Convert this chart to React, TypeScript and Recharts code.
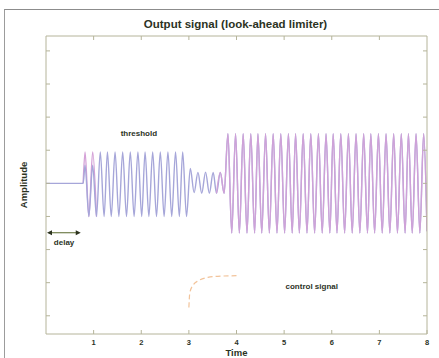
import React from 'react';
import { LineChart, Line, XAxis, YAxis, ReferenceDot, ReferenceLine, Label } from 'recharts';

// ---- data ----
const signalTimes = [
  0, 0.78,
  0.82, 0.90, 0.98, 1.06, 1.14, 1.22, 1.29, 1.37, 1.45, 1.53,
  1.61, 1.69, 1.77, 1.85, 1.93, 2.01, 2.08, 2.16, 2.24, 2.32,
  2.40, 2.48, 2.56, 2.64, 2.72, 2.80, 2.87, 2.95, 3.03, 3.11,
  3.19, 3.27, 3.35, 3.43, 3.51, 3.58, 3.66, 3.74, 3.82, 3.90,
  3.98, 4.06, 4.14, 4.22, 4.30, 4.38, 4.45, 4.53, 4.61, 4.69,
  4.77, 4.85, 4.93, 5.01, 5.09, 5.17, 5.24, 5.32, 5.40, 5.48,
  5.56, 5.64, 5.72, 5.80, 5.88, 5.96, 6.03, 6.11, 6.19, 6.27,
  6.35, 6.43, 6.51, 6.59, 6.67, 6.75, 6.82, 6.90, 6.98, 7.06,
  7.14, 7.22, 7.30, 7.38, 7.46, 7.54, 7.61, 7.69, 7.77, 7.85,
  7.93, 8.00,
];

// output signal (blue)
const outputValues = [
  0, 0,
  0.55, -1.0, 0.55, -1.0, 0.95, -1.0, 0.95, -1.0, 0.95, -1.0,
  0.95, -1.0, 0.95, -1.0, 0.95, -1.0, 0.95, -1.0, 0.95, -1.0,
  0.95, -1.0, 0.95, -1.0, 0.95, -1.0, 0.95, -1.0, 0.45, -0.28,
  0.33, -0.3, 0.34, -0.3, 0.33, -0.3, 0.33, -0.3, 1.5, -1.5,
  1.5, -1.5, 1.5, -1.5, 1.5, -1.5, 1.5, -1.5, 1.5, -1.5,
  1.5, -1.5, 1.5, -1.5, 1.5, -1.5, 1.5, -1.5, 1.5, -1.5,
  1.5, -1.5, 1.5, -1.5, 1.5, -1.5, 1.5, -1.5, 1.5, -1.5,
  1.5, -1.5, 1.5, -1.5, 1.5, -1.5, 1.5, -1.5, 1.5, -1.5,
  1.5, -1.5, 1.5, -1.5, 1.5, -1.5, 1.5, -1.5, 1.5, -1.5,
  1.5, -1.45,
];

// input signal (pink)
const inputValues = [
  null, 0,
  0.95, -1.0, 0.95, -1.0, null, null, null, null, null, null,
  null, null, null, null, null, null, null, null, null, null,
  null, null, null, null, null, null, null, null, null, null,
  null, null, null, null, null, -0.3, 0.33, -0.3, 1.5, -1.5,
  1.5, -1.5, 1.5, -1.5, 1.5, -1.5, 1.5, -1.5, 1.5, -1.5,
  1.5, -1.5, 1.5, -1.5, 1.5, -1.5, 1.5, -1.5, 1.5, -1.5,
  1.5, -1.5, 1.5, -1.5, 1.5, -1.5, 1.5, -1.5, 1.5, -1.5,
  1.5, -1.5, 1.5, -1.5, 1.5, -1.5, 1.5, -1.5, 1.5, -1.5,
  1.5, -1.5, 1.5, -1.5, 1.5, -1.5, 1.5, -1.5, 1.5, -1.5,
  1.5, -1.45,
];

const controlTimes = [3.0, 3.02, 3.1, 3.2, 3.4, 3.7, 4.0];
const controlValues = [-3.75, -3.3, -3.05, -2.94, -2.84, -2.8, -2.79];

const xTicksBottom = [1, 2, 3, 4, 5, 6, 7, 8];
const xTicksTop = [1, 2, 3, 4, 5, 6, 7];
const yTicks = [-4, -3, -2, -1, 0, 1, 2, 3, 4];
const xDomain = [0, 8];
const yDomain = [-4.55, 4.45];

const annotationTexts = ['threshold', 'delay', 'control signal'];
const annotationTimes = [1.95, 0.38, 5.58];
const annotationValues = [1.42, -1.86, -3.19];

const delayArrowTimes = [0, 0.73];
const delayArrowValue = -1.49;

const titleText = 'Output signal (look-ahead limiter)';
const xLabelText = 'Time';
const yLabelText = 'Amplitude';

// ---- styling ----
const FONT = '"Liberation Sans", Arial, Helvetica, sans-serif';
const FRAME = '#b5b49a';
const TEXT = '#2c331f';
const BLUE = '#a6a6d9';
const PINK = '#d4a1d7';
const ORANGE = '#f2c39a';

const signalData = signalTimes.map((t, i) => ({
  t,
  output: outputValues[i],
  inputEarly: t < 2 ? inputValues[i] : null,
  inputLate: t >= 2 ? inputValues[i] : null,
}));

const controlData = controlTimes.map((t, i) => ({ t, control: controlValues[i] }));

const annotations = annotationTexts.map((text, i) => ({
  text,
  t: annotationTimes[i],
  v: annotationValues[i],
}));

const BottomTick = (p: any) => (
  <g>
    <line x1={p.x} x2={p.x} y1={p.y} y2={p.y - 4} stroke={FRAME} />
    <text x={p.x} y={p.y + 11} textAnchor="middle" fontSize={7.5} fontWeight="bold" fill={TEXT} fontFamily={FONT}>
      {p.payload.value}
    </text>
  </g>
);
const TopTick = (p: any) => (
  <line x1={p.x} x2={p.x} y1={p.y} y2={p.y + 4} stroke={FRAME} />
);
const LeftTick = (p: any) => (
  <line x1={p.x} x2={p.x + 4} y1={p.y} y2={p.y} stroke={FRAME} />
);
const RightTick = (p: any) => (
  <line x1={p.x} x2={p.x - 4} y1={p.y} y2={p.y} stroke={FRAME} />
);

const TitleLabel = (p: any) => {
  const vb = p.viewBox || {};
  return (
    <text x={vb.x + vb.width / 2 - 1} y={vb.y + vb.height - 8} textAnchor="middle" fontSize={11.5} fontWeight="bold" fill={TEXT} fontFamily={FONT}>
      {titleText}
    </text>
  );
};
const TimeLabel = (p: any) => {
  const vb = p.viewBox || {};
  return (
    <text x={vb.x + vb.width / 2} y={vb.y + 22} textAnchor="middle" fontSize={9.5} fontWeight="bold" fill={TEXT} fontFamily={FONT}>
      {xLabelText}
    </text>
  );
};
const AmpLabel = (p: any) => {
  const vb = p.viewBox || {};
  const cx = vb.x + vb.width - 23;
  const cy = vb.y + vb.height / 2;
  return (
    <text
      transform={`translate(${cx},${cy}) rotate(-90)`}
      x={0}
      y={0}
      textAnchor="middle"
      dominantBaseline="central"
      fontSize={9.5}
      fontWeight="bold"
      fill={TEXT}
      fontFamily={FONT}
    >
      {yLabelText}
    </text>
  );
};

const DelayArrow = (p: any) => {
  const x1 = Math.min(p.x1, p.x2);
  const x2 = Math.max(p.x1, p.x2);
  const y = p.y1;
  return (
    <g>
      <line x1={x1 + 3} x2={x2 - 3} y1={y} y2={y} stroke="#7d8a5c" strokeWidth={1.3} />
      <polygon points={`${x1 + 1},${y} ${x1 + 6},${y - 2.5} ${x1 + 6},${y + 2.5}`} fill={TEXT} />
      <polygon points={`${x2},${y} ${x2 - 5},${y - 2.5} ${x2 - 5},${y + 2.5}`} fill={TEXT} />
    </g>
  );
};

export default function App() {
  return (
    <div style={{ position: 'absolute', left: 0, top: 0, width: 439, height: 358, background: '#fff', overflow: 'hidden' }}>
      <div
        style={{
          position: 'absolute',
          left: 4,
          top: 9,
          width: 440,
          height: 360,
          borderLeft: '1px solid #9c9c9c',
          borderTop: '1px solid #8c8c8c',
        }}
      />
      <LineChart
        width={439}
        height={358}
        data={signalData}
        margin={{ top: 35, right: 11, bottom: 0, left: 45 }}
        style={{ position: 'absolute', left: 0, top: 0 }}
      >
        <XAxis
          xAxisId="b"
          dataKey="t"
          type="number"
          domain={xDomain}
          ticks={xTicksBottom}
          interval={0}
          height={24}
          tickSize={0}
          tickMargin={0}
          tickLine={false}
          axisLine={{ stroke: FRAME }}
          tick={(p: any) => <BottomTick {...p} />}
          allowDataOverflow
        >
          <Label content={(p: any) => <TimeLabel {...p} />} />
        </XAxis>
        <XAxis
          xAxisId="t"
          orientation="top"
          dataKey="t"
          type="number"
          domain={xDomain}
          ticks={xTicksTop}
          interval={0}
          height={1}
          tickSize={0}
          tickMargin={0}
          tickLine={false}
          axisLine={{ stroke: FRAME }}
          tick={(p: any) => <TopTick {...p} />}
          allowDataOverflow
        >
          <Label content={(p: any) => <TitleLabel {...p} />} />
        </XAxis>
        <YAxis
          yAxisId="l"
          type="number"
          domain={yDomain}
          ticks={yTicks}
          interval={0}
          width={1}
          tickSize={0}
          tickMargin={0}
          tickLine={false}
          axisLine={{ stroke: FRAME }}
          tick={(p: any) => <LeftTick {...p} />}
          allowDataOverflow
        >
          <Label content={(p: any) => <AmpLabel {...p} />} />
        </YAxis>
        <YAxis
          yAxisId="r"
          orientation="right"
          type="number"
          domain={yDomain}
          ticks={yTicks}
          interval={0}
          width={1}
          tickSize={0}
          tickMargin={0}
          tickLine={false}
          axisLine={{ stroke: FRAME }}
          tick={(p: any) => <RightTick {...p} />}
          allowDataOverflow
        />
        <Line
          xAxisId="b"
          yAxisId="l"
          type="monotone"
          dataKey="inputEarly"
          stroke={PINK}
          strokeWidth={1.4}
          dot={false}
          activeDot={false}
          isAnimationActive={false}
        />
        <Line
          xAxisId="b"
          yAxisId="l"
          type="monotone"
          dataKey="output"
          stroke={BLUE}
          strokeWidth={1.4}
          dot={false}
          activeDot={false}
          isAnimationActive={false}
        />
        <Line
          xAxisId="b"
          yAxisId="l"
          type="monotone"
          dataKey="inputLate"
          stroke={PINK}
          strokeWidth={1.4}
          strokeOpacity={0.9}
          dot={false}
          activeDot={false}
          isAnimationActive={false}
        />
        <Line
          xAxisId="b"
          yAxisId="l"
          data={controlData}
          type="monotone"
          dataKey="control"
          stroke={ORANGE}
          strokeWidth={1.2}
          strokeDasharray="5 3"
          dot={false}
          activeDot={false}
          isAnimationActive={false}
        />
        <ReferenceLine
          xAxisId="b"
          yAxisId="l"
          segment={[
            { x: delayArrowTimes[0], y: delayArrowValue },
            { x: delayArrowTimes[1], y: delayArrowValue },
          ]}
          stroke="#7d8a5c"
          shape={(p: any) => <DelayArrow {...p} />}
        />
        {annotations.map((a) => (
          <ReferenceDot
            key={a.text}
            xAxisId="b"
            yAxisId="l"
            x={a.t}
            y={a.v}
            r={0}
            shape={(p: any) => (
              <text x={p.cx} y={p.cy} textAnchor="middle" fontSize={8} fontWeight="bold" fill={TEXT} fontFamily={FONT}>
                {a.text}
              </text>
            )}
          />
        ))}
      </LineChart>
    </div>
  );
}
